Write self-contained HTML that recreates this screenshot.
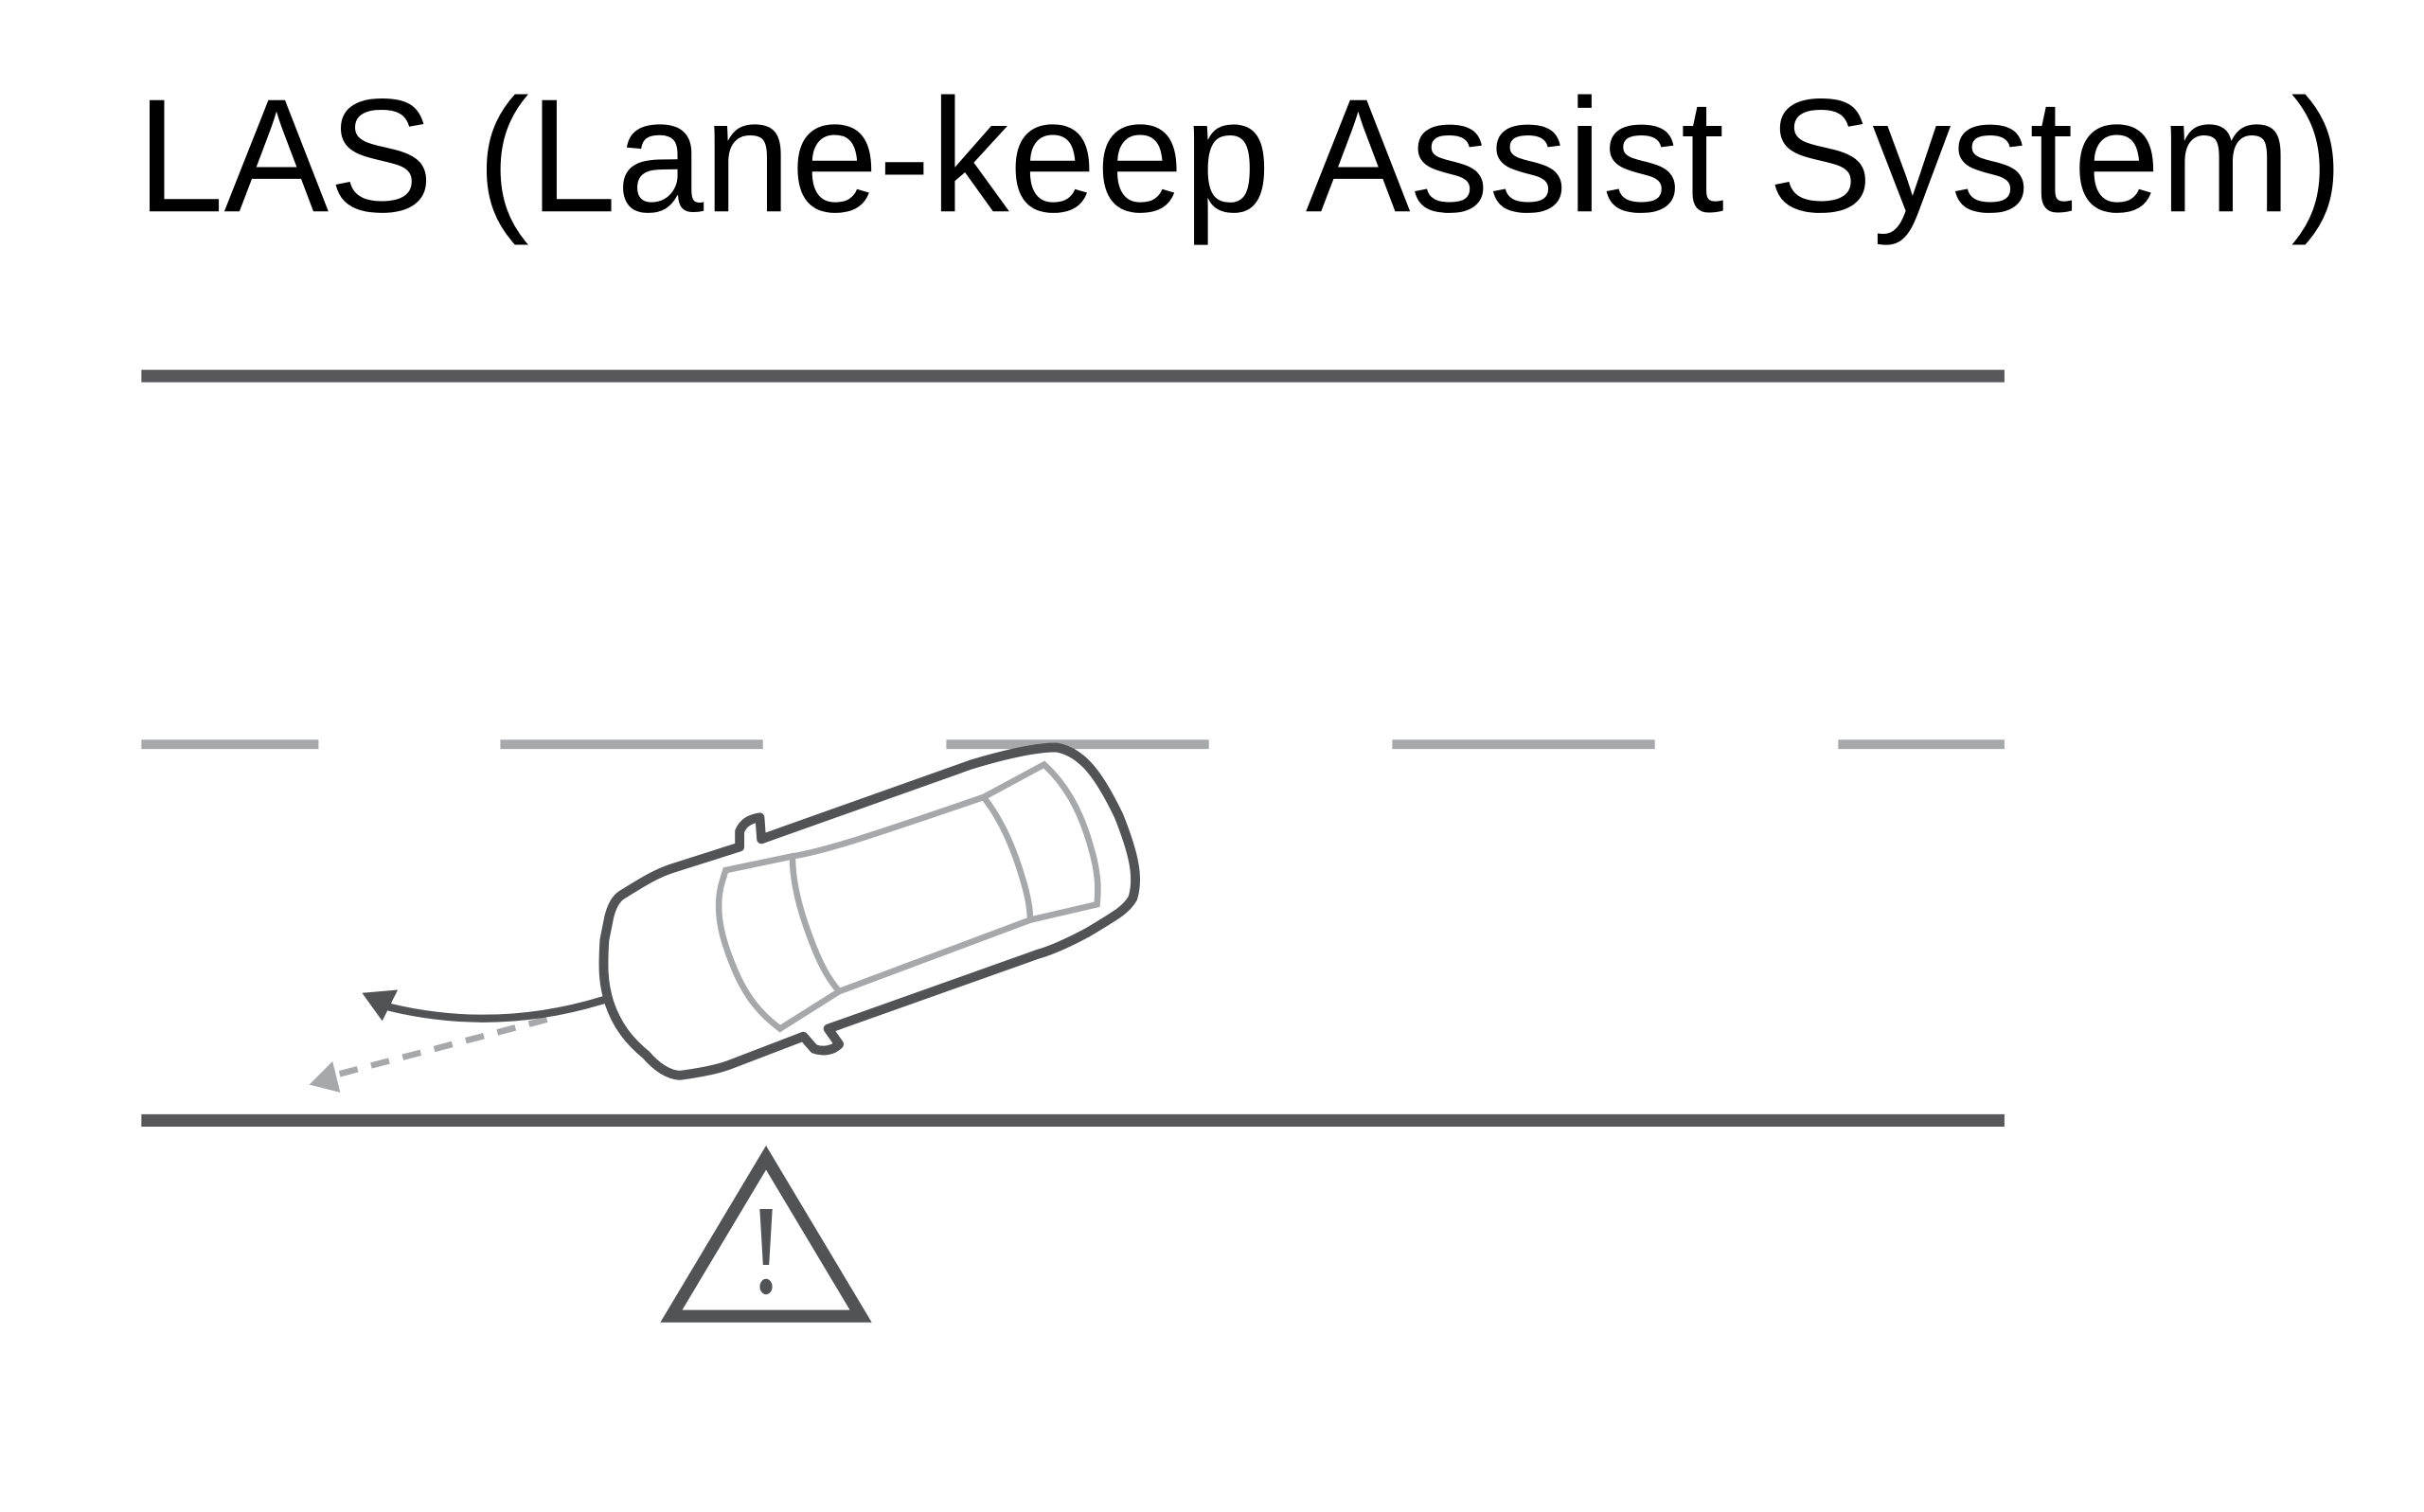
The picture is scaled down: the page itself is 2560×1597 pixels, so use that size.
<!DOCTYPE html>
<html><head><meta charset="utf-8"><style>
html,body{margin:0;padding:0;background:#fff;}
svg{display:block;}
</style></head><body>
<svg width="2560" height="1597" viewBox="0 0 1560 973" preserveAspectRatio="none" xmlns="http://www.w3.org/2000/svg">
<rect width="1560" height="973" fill="#fff"/>
<text x="88" y="136" font-family="Liberation Sans, sans-serif" font-size="104" fill="#000" textLength="1420" lengthAdjust="spacingAndGlyphs">LAS (Lane-keep Assist System)</text>
<line x1="91" y1="242" x2="1290" y2="242" stroke="#58585a" stroke-width="8"/>
<g stroke="#a7a8aa" stroke-width="6">
<line x1="91" y1="479" x2="205" y2="479"/>
<line x1="322" y1="479" x2="491" y2="479"/>
<line x1="609" y1="479" x2="778" y2="479"/>
<line x1="896" y1="479" x2="1065" y2="479"/>
<line x1="1183" y1="479" x2="1290" y2="479"/>
</g>
<line x1="91" y1="721" x2="1290" y2="721" stroke="#58585a" stroke-width="8"/>
<polygon points="493,745 432,847 554,847" fill="none" stroke="#525355" stroke-width="8"/>
<path d="M490,779 L496,779 L494,813 L492,813 Z" fill="#525355" stroke="#525355" stroke-width="2"/>
<ellipse cx="493" cy="828" rx="4" ry="5" fill="#525355"/>
<!-- dashed arrow -->
<line x1="352" y1="656" x2="215" y2="692" stroke="#a7a8aa" stroke-width="4" stroke-dasharray="12,9"/>
<polygon points="199,698 219,703 214,683" fill="#a7a8aa"/>
<!-- solid arrow -->
<path d="M390,643 Q320,665 250,648" fill="none" stroke="#525355" stroke-width="5"/>
<polygon points="233,639 256,637 246,657" fill="#525355"/>
<!-- car outer -->
<path d="M680,481 C697,484 708,500 720,525 C730,550 733,565 729,578 C725,585 720,588 700,600 C685,608 675,612 668,614 L533,662 L540,672 C536,676 530,677 524,675 L517,667 L470,685 C460,689 445,691 438,692 C430,692 422,686 416,679 C405,670 397,660 392,645 C388,632 388,622 389,605 L392,590 C394,582 397,578 400,576 C410,570 420,563 432,559 L476,545 L476,535 C478,530 482,527 489,526 L490,540 L625,492 C645,486 665,481 680,481 Z" fill="#fff" stroke="#525355" stroke-width="6" stroke-linejoin="round"/>
<!-- car inner -->
<path d="M467,560 L510,551 C530,548 560,538 633,513 L672,492 C685,504 695,520 702,545 C707,562 707,572 706,582 L663,592 L540,638 L502,662 C490,653 480,642 472,622 C465,605 460,588 464,570 Z" fill="none" stroke="#a7a8aa" stroke-width="4"/>
<path d="M510,551 C510,570 516,590 524,610 C530,625 535,632 540,638" fill="none" stroke="#a7a8aa" stroke-width="4"/>
<path d="M633,513 C645,528 653,548 658,565 C662,578 663,586 663,592" fill="none" stroke="#a7a8aa" stroke-width="4"/>
</svg>
</body></html>
